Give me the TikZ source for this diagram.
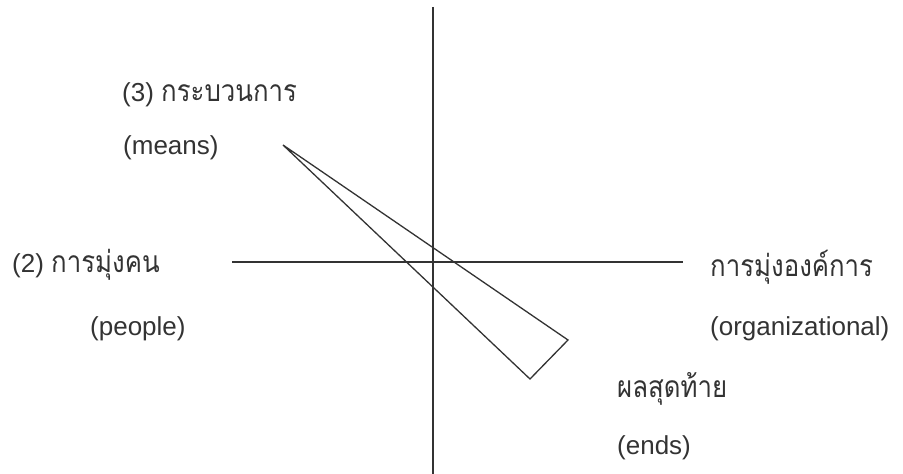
\documentclass[tikz,border=0pt]{standalone}
\usepackage{fontspec}
\setmainfont{Liberation Sans}
\newfontfamily\thaifont[Script=Thai,FakeStretch=0.86]{Loma}
\newcommand{\thtxt}[1]{{\thaifont\fontsize{30}{34}\selectfont #1}}
\definecolor{ink}{HTML}{333333}
\begin{document}
\begin{tikzpicture}[x=1pt,y=1pt,
  lbl/.style={anchor=base west,inner sep=0pt,text=ink,font=\fontsize{26}{30}\selectfont},
  ln/.style={draw=ink,line width=1.3pt}]
\useasboundingbox (0,0) rectangle (903,474);
% axes
\coordinate (vt) at (433,467);
\coordinate (vb) at (433,0);
\coordinate (hl) at (232,212);
\coordinate (hr) at (683,212);
\draw[ln] (vt) -- (vb);
\draw[ln] (hl) -- (hr);
% triangle
\coordinate (A) at (283,329);
\coordinate (B) at (568,134);
\coordinate (C) at (530,95);
\draw[ln,line join=miter] (A) -- (B) -- (C) -- cycle;
% labels
\node[lbl] (t3) at (122,372) {(3) \thtxt{กระบวนการ}};
\node[lbl] (tm) at (123,319) {(means)};
\node[lbl] (t2) at (12,201) {(2) \thtxt{การมุ่งคน}};
\node[lbl] (tp) at (90,138) {(people)};
\node[lbl] (to) at (710,197) {\thtxt{การมุ่งองค์การ}};
\node[lbl] (tor) at (710,138) {(organizational)};
\node[lbl] (te) at (617,76) {\thtxt{ผลสุดท้าย}};
\node[lbl] (ten) at (617,19) {(ends)};
\end{tikzpicture}
\end{document}
